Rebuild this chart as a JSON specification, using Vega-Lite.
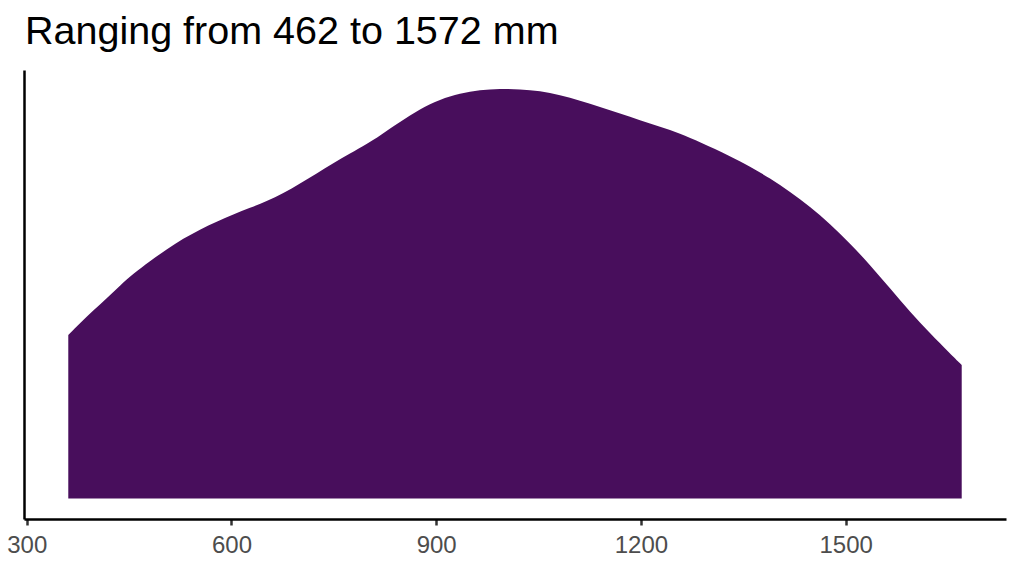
{
  "$schema": "https://vega.github.io/schema/vega-lite/v6.json",
  "width": 982,
  "height": 449,
  "autosize": {"type": "none"},
  "padding": {"left": 24, "top": 70, "right": 18, "bottom": 57},
  "background": "white",
  "title": {
    "text": "Ranging from 462 to 1572 mm",
    "anchor": "start",
    "frame": "group",
    "font": "Liberation Sans",
    "fontSize": 39.5,
    "fontWeight": "normal",
    "color": "#000000",
    "baseline": "alphabetic",
    "offset": 25,
    "dy": 38,
    "dx": 1
  },
  "data": {
    "values": [
      {"rainfall": 360.9, "density": 0.0002955},
      {"rainfall": 378.1, "density": 0.0003171},
      {"rainfall": 397.5, "density": 0.0003397},
      {"rainfall": 417.2, "density": 0.0003617},
      {"rainfall": 436.7, "density": 0.0003849},
      {"rainfall": 456.2, "density": 0.000406},
      {"rainfall": 480.6, "density": 0.0004291},
      {"rainfall": 505.1, "density": 0.0004499},
      {"rainfall": 529.4, "density": 0.0004698},
      {"rainfall": 553.9, "density": 0.000486},
      {"rainfall": 578.4, "density": 0.0005004},
      {"rainfall": 602.7, "density": 0.0005131},
      {"rainfall": 627.2, "density": 0.0005252},
      {"rainfall": 651.6, "density": 0.0005371},
      {"rainfall": 676.0, "density": 0.000551},
      {"rainfall": 700.4, "density": 0.0005691},
      {"rainfall": 724.9, "density": 0.0005871},
      {"rainfall": 749.2, "density": 0.0006061},
      {"rainfall": 773.7, "density": 0.0006233},
      {"rainfall": 798.2, "density": 0.0006401},
      {"rainfall": 817.7, "density": 0.0006558},
      {"rainfall": 847.0, "density": 0.0006801},
      {"rainfall": 876.3, "density": 0.000704},
      {"rainfall": 905.6, "density": 0.0007211},
      {"rainfall": 934.9, "density": 0.0007316},
      {"rainfall": 964.2, "density": 0.0007379},
      {"rainfall": 993.5, "density": 0.0007401},
      {"rainfall": 1022.8, "density": 0.0007394},
      {"rainfall": 1052.1, "density": 0.0007361},
      {"rainfall": 1081.4, "density": 0.0007289},
      {"rainfall": 1110.7, "density": 0.0007186},
      {"rainfall": 1140.1, "density": 0.0007074},
      {"rainfall": 1169.4, "density": 0.0006955},
      {"rainfall": 1198.7, "density": 0.0006832},
      {"rainfall": 1228.0, "density": 0.0006713},
      {"rainfall": 1257.3, "density": 0.0006594},
      {"rainfall": 1286.6, "density": 0.0006435},
      {"rainfall": 1330.5, "density": 0.0006187},
      {"rainfall": 1359.9, "density": 0.0005994},
      {"rainfall": 1389.2, "density": 0.0005785},
      {"rainfall": 1418.5, "density": 0.0005543},
      {"rainfall": 1447.8, "density": 0.0005272},
      {"rainfall": 1477.1, "density": 0.0004959},
      {"rainfall": 1506.4, "density": 0.0004611},
      {"rainfall": 1535.7, "density": 0.0004219},
      {"rainfall": 1565.0, "density": 0.0003798},
      {"rainfall": 1594.3, "density": 0.0003375},
      {"rainfall": 1623.6, "density": 0.0002985},
      {"rainfall": 1652.9, "density": 0.0002624},
      {"rainfall": 1670.1, "density": 0.0002413}
    ]
  },
  "mark": {"type": "area", "color": "#480E5C", "interpolate": "basis"},
  "encoding": {
    "x": {
      "field": "rainfall",
      "type": "quantitative",
      "scale": {"domain": [296, 1735], "nice": false, "zero": false},
      "axis": {
        "title": null,
        "values": [300, 600, 900, 1200, 1500],
        "format": "d",
        "grid": false,
        "domainColor": "#000000",
        "domainWidth": 2.5,
        "tickColor": "#333333",
        "tickWidth": 2.5,
        "tickSize": 6,
        "labelFont": "Liberation Sans",
        "labelFontSize": 24,
        "labelColor": "#4d4d4d",
        "labelPadding": 8,
        "labelFlush": false
      }
    },
    "y": {
      "field": "density",
      "type": "quantitative",
      "scale": {"domain": [-0.0000369, 0.000774], "nice": false, "zero": false},
      "axis": {
        "title": null,
        "labels": false,
        "ticks": false,
        "grid": false,
        "domainColor": "#000000",
        "domainWidth": 2.5
      }
    },
    "y2": {"datum": 0}
  },
  "config": {"view": {"stroke": null}}
}
